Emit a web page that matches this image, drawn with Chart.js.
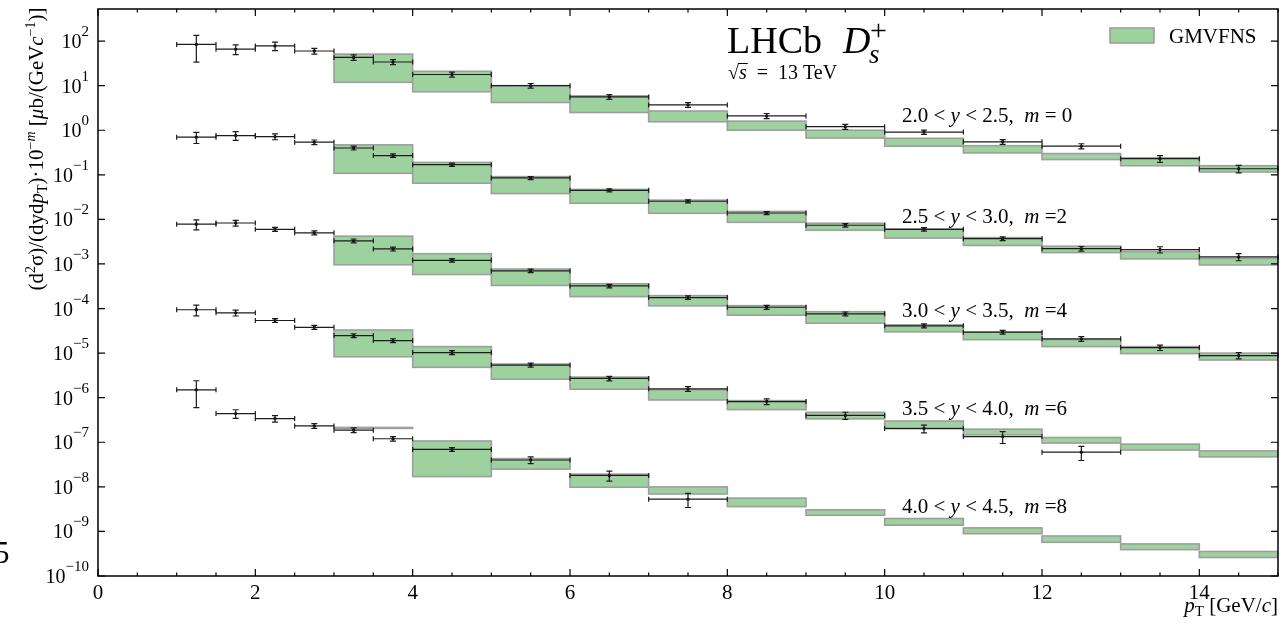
<!DOCTYPE html>
<html>
<head>
<meta charset="utf-8">
<script src="https://cdn.jsdelivr.net/npm/chart.js@4.4.1/dist/chart.umd.min.js"></script>
<style>
  html, body { margin: 0; padding: 0; background: #fff; }
  #wrap { width: 1282px; height: 626px; }
</style>
</head>
<body>
<div id="wrap"><canvas id="chart" width="1282" height="626"></canvas></div>
<script>
/* ------------------------------------------------- */
// Data (pT bins in GeV/c, cross-sections scaled by 10^-m)

var dataEdges = [1, 1.5, 2, 2.5, 3, 3.5, 4, 5, 6, 7, 8, 9, 10, 11, 12, 13, 14, 15]
var theoryEdges = [3, 4, 5, 6, 7, 8, 9, 10, 11, 12, 13, 14, 15]
var xTickLabels = [0, 2, 4, 6, 8, 10, 12, 14]
var yTickExps = [2, 1, 0, -1, -2, -3, -4, -5, -6, -7, -8, -9, -10]

var rapLow = ['2.0', '2.5', '3.0', '3.5', '4.0']
var rapHigh = ['2.5', '3.0', '3.5', '4.0', '4.5']
var mValues = [0, 2, 4, 6, 8]

// LHCb measurement
var lhcb_m0 = [84, 66, 78, 60, 43, 34, 17.8, 10, 5.6, 3.7, 2.1, 1.2, 0.91, 0.55, 0.44, 0.23, 0.137]
var lhcb_m2 = [0.70, 0.76, 0.72, 0.54, 0.40, 0.27, 0.169, 0.085, 0.045, 0.0255, 0.0139, 0.0074, 0.0060, 0.0037, 0.0022, 0.0021, 0.00144]
var lhcb_m4 = [0.0078, 0.0083, 0.0060, 0.0050, 0.0033, 0.00217, 0.00121, 0.00070, 0.000321, 0.000176, 0.000107, 7.6e-5, 4.1e-5, 2.95e-5, 2.09e-5, 1.33e-5, 8.8e-6]
var lhcb_m6 = [9.4e-5, 8.0e-5, 5.4e-5, 3.8e-5, 2.47e-5, 1.91e-5, 1.03e-5, 5.4e-6, 2.7e-6, 1.58e-6, 8.2e-7, 4.0e-7, 2.03e-7, 1.34e-7, 6.0e-8]
var lhcb_m8 = [1.5e-6, 4.4e-7, 3.4e-7, 2.33e-7, 1.87e-7, 1.2e-7, 6.9e-8, 4.0e-8, 1.8e-8, 5.3e-9]

// relative uncertainties of the measurement
var relErr_m0 = [0.6, 0.25, 0.22, 0.15, 0.14, 0.13, 0.13, 0.12, 0.12, 0.12, 0.13, 0.13, 0.11, 0.12, 0.13, 0.17, 0.19]
var relErr_m2 = [0.28, 0.22, 0.15, 0.12, 0.1, 0.09, 0.08, 0.08, 0.08, 0.08, 0.08, 0.09, 0.09, 0.1, 0.12, 0.16, 0.18]
var relErr_m4 = [0.25, 0.15, 0.1, 0.1, 0.1, 0.1, 0.09, 0.09, 0.09, 0.09, 0.1, 0.1, 0.1, 0.1, 0.12, 0.14, 0.16]
var relErr_m6 = [0.27, 0.15, 0.1, 0.1, 0.1, 0.1, 0.1, 0.1, 0.12, 0.12, 0.15, 0.18, 0.2, 0.3, 0.35]
var relErr_m8 = [0.6, 0.22, 0.17, 0.12, 0.12, 0.12, 0.1, 0.17, 0.25, 0.35]

// GMVFNS prediction, upper / lower edge of the band
var gmvfns_m0_hi = [51, 21, 10, 5.9, 2.7, 1.6, 1.0, 0.66, 0.45, 0.30, 0.24, 0.16]
var gmvfns_m0_lo = [11.9, 7.3, 4.2, 2.5, 1.55, 1.0, 0.67, 0.44, 0.31, 0.22, 0.16, 0.116]
var gmvfns_m2_hi = [0.47, 0.19, 0.091, 0.047, 0.027, 0.0151, 0.0082, 0.0061, 0.0039, 0.0025, 0.0019, 0.00134]
var gmvfns_m2_lo = [0.108, 0.065, 0.038, 0.023, 0.0137, 0.0086, 0.0057, 0.0038, 0.0026, 0.0018, 0.0013, 0.00095]
var gmvfns_m4_hi = [0.0042, 0.0017, 0.00077, 0.00036, 0.000195, 0.000116, 8.5e-5, 4.3e-5, 2.95e-5, 2.0e-5, 1.4e-5, 1.0e-5]
var gmvfns_m4_lo = [0.00096, 0.00058, 0.00033, 0.000185, 0.000115, 7.1e-5, 4.7e-5, 3.0e-5, 2.0e-5, 1.4e-5, 9.75e-6, 7.0e-6]
var gmvfns_m6_hi = [3.3e-5, 1.4e-5, 5.7e-6, 2.9e-6, 1.5e-6, 8.6e-7, 4.7e-7, 3.0e-7, 1.97e-7, 1.28e-7, 9.1e-8, 6.4e-8]
var gmvfns_m6_lo = [8.3e-6, 4.8e-6, 2.6e-6, 1.55e-6, 8.9e-7, 5.4e-7, 3.35e-7, 2.1e-7, 1.47e-7, 9.6e-8, 6.7e-8, 4.7e-8]
var gmvfns_m8_hi = [2.15e-7, 1.07e-7, 4.3e-8, 1.93e-8, 1.0e-8, 5.6e-9, 3.05e-9, 1.95e-9, 1.2e-9, 7.9e-10, 5.25e-10, 3.55e-10]
var gmvfns_m8_lo = [2.05e-7, 1.7e-8, 2.5e-8, 9.8e-9, 6.9e-9, 3.6e-9, 2.3e-9, 1.38e-9, 8.9e-10, 5.7e-10, 3.9e-10, 2.6e-10]

var series = [
    { values: lhcb_m0, err: relErr_m0, hi: gmvfns_m0_hi, lo: gmvfns_m0_lo },
    { values: lhcb_m2, err: relErr_m2, hi: gmvfns_m2_hi, lo: gmvfns_m2_lo },
    { values: lhcb_m4, err: relErr_m4, hi: gmvfns_m4_hi, lo: gmvfns_m4_lo },
    { values: lhcb_m6, err: relErr_m6, hi: gmvfns_m6_hi, lo: gmvfns_m6_lo },
    { values: lhcb_m8, err: relErr_m8, hi: gmvfns_m8_hi, lo: gmvfns_m8_lo }
]

/* ------------------------------------------------- */
// Drawing helpers

var SERIF = '"Liberation Serif", "DejaVu Serif", serif'
var BAND_FILL = 'rgb(157, 210, 158)'
var BAND_EDGE = 'rgb(158, 158, 158)'

function font(size, italic) {
    return (italic ? 'italic ' : '') + size + 'px ' + SERIF
}

// parts: [text, font, dy]
function drawRich(ctx, parts, x, y, align) {
    var w = 0
    parts.forEach(function (p) {
        ctx.font = p[1]
        w += ctx.measureText(p[0]).width
    })
    var cx = x
    if (align === 'right') cx = x - w
    if (align === 'center') cx = x - w / 2
    parts.forEach(function (p) {
        ctx.font = p[1]
        ctx.fillText(p[0], cx, y + (p[2] || 0))
        cx += ctx.measureText(p[0]).width
    })
    return w
}

function binCentres(edges, n) {
    var out = []
    for (var i = 0; i < n; i++) out.push((edges[i] + edges[i + 1]) / 2)
    return out
}

var hepPlot = {
    id: 'hepPlot',
    beforeDatasetsDraw: function (chart) {
        var ctx = chart.ctx, xs = chart.scales.x, ys = chart.scales.y, a = chart.chartArea
        ctx.save()
        ctx.beginPath()
        ctx.rect(a.left, a.top, a.right - a.left, a.bottom - a.top)
        ctx.clip()
        series.forEach(function (s) {
            for (var i = 0; i < s.hi.length; i++) {
                var x0 = xs.getPixelForValue(theoryEdges[i])
                var x1 = xs.getPixelForValue(theoryEdges[i + 1])
                var y0 = ys.getPixelForValue(s.hi[i])
                var y1 = ys.getPixelForValue(s.lo[i])
                ctx.fillStyle = BAND_FILL
                ctx.fillRect(x0, y0, x1 - x0, y1 - y0)
                ctx.strokeStyle = BAND_EDGE
                ctx.lineWidth = 1.6
                ctx.strokeRect(x0, y0, x1 - x0, y1 - y0)
            }
        })
        ctx.restore()
    },
    afterDatasetsDraw: function (chart) {
        var ctx = chart.ctx, xs = chart.scales.x, ys = chart.scales.y
        ctx.save()
        ctx.strokeStyle = '#1c1c1c'
        ctx.lineWidth = 1.2
        series.forEach(function (s) {
            s.values.forEach(function (v, i) {
                var x0 = xs.getPixelForValue(dataEdges[i])
                var x1 = xs.getPixelForValue(dataEdges[i + 1])
                var xc = (x0 + x1) / 2
                var y = ys.getPixelForValue(v)
                var yUp = ys.getPixelForValue(v * (1 + s.err[i]))
                var yDn = ys.getPixelForValue(v * Math.max(1 - s.err[i], 0.05))
                ctx.beginPath()
                ctx.moveTo(x0, y); ctx.lineTo(x1, y)
                ctx.moveTo(x0, y - 2.5); ctx.lineTo(x0, y + 2.5)
                ctx.moveTo(x1, y - 2.5); ctx.lineTo(x1, y + 2.5)
                ctx.moveTo(xc, yUp); ctx.lineTo(xc, yDn)
                ctx.moveTo(xc - 3, yUp); ctx.lineTo(xc + 3, yUp)
                ctx.moveTo(xc - 3, yDn); ctx.lineTo(xc + 3, yDn)
                ctx.stroke()
            })
        })
        ctx.restore()
    },
    afterDraw: function (chart) {
        var ctx = chart.ctx, xs = chart.scales.x, ys = chart.scales.y, a = chart.chartArea
        ctx.save()
        ctx.fillStyle = '#000'
        ctx.strokeStyle = '#000'

        // frame
        ctx.lineWidth = 1.5
        ctx.strokeRect(a.left, a.top, a.right - a.left, a.bottom - a.top)

        // x ticks (inward, top and bottom)
        ctx.lineWidth = 1.2
        for (var t = 0; t <= 15; t += 0.5) {
            var px = xs.getPixelForValue(t)
            var len = (t % 2 === 0) ? 7 : 3.5
            ctx.beginPath()
            ctx.moveTo(px, a.bottom); ctx.lineTo(px, a.bottom - len)
            ctx.moveTo(px, a.top); ctx.lineTo(px, a.top + len)
            ctx.stroke()
        }
        // y ticks (inward, left and right)
        yTickExps.forEach(function (e) {
            var py = ys.getPixelForValue(Math.pow(10, e))
            ctx.beginPath()
            ctx.moveTo(a.left, py); ctx.lineTo(a.left + 7, py)
            ctx.moveTo(a.right, py); ctx.lineTo(a.right - 7, py)
            ctx.stroke()
        })

        // tick labels
        ctx.textBaseline = 'alphabetic'
        ctx.textAlign = 'left'
        xTickLabels.forEach(function (v) {
            drawRich(ctx, [[String(v), font(21)]], xs.getPixelForValue(v), 599, 'center')
        })
        yTickExps.forEach(function (e) {
            var py = ys.getPixelForValue(Math.pow(10, e))
            var exp = e < 0 ? '\u2212' + (-e) : String(e)
            drawRich(ctx, [['10', font(20)], [exp, font(15), -12]], 89, py + 7, 'right')
        })

        // axis titles
        drawRich(ctx, [
            ['p', font(21, true)], ['T', font(15), 4],
            [' [GeV/', font(21)], ['c', font(21, true)], [']', font(21)]
        ], 1278, 612, 'right')

        ctx.save()
        ctx.translate(36, 149)
        ctx.rotate(-Math.PI / 2)
        drawRich(ctx, [
            ['(d', font(21)], ['2', font(14), -8], ['\u03c3)/(dyd', font(21)],
            ['p', font(21, true)], ['T', font(14), 4], [')\u00b710', font(21)],
            ['\u2212', font(14), -8], ['m', font(14, true), -8],
            [' [', font(21)], ['\u03bc', font(21, true)], ['b/(GeV', font(21)],
            ['c', font(21, true)], ['\u22121', font(14), -8], [')]', font(21)]
        ], 0, 7, 'center')
        ctx.restore()

        // experiment label
        drawRich(ctx, [['LHCb', font(38)]], 727, 53, 'left')
        drawRich(ctx, [['D', font(38, true)]], 843, 53, 'left')
        drawRich(ctx, [['+', font(30)]], 870, 40, 'left')
        drawRich(ctx, [['s', font(27, true)]], 869, 63, 'left')
        var rw = drawRich(ctx, [['\u221a', font(20)]], 728, 79, 'left')
        var sw = drawRich(ctx, [['s', font(20, true)]], 728 + rw, 79, 'left')
        ctx.lineWidth = 1
        ctx.beginPath()
        ctx.moveTo(728 + rw - 1, 63.5); ctx.lineTo(728 + rw + sw + 1, 63.5)
        ctx.stroke()
        drawRich(ctx, [['  =  13 TeV', font(20)]], 728 + rw + sw, 79, 'left')

        // rapidity labels, anchored in data coordinates
        var labelLogY = [0.34, -1.92, -4.03, -6.23, -8.43]
        mValues.forEach(function (m, k) {
            var py = ys.getPixelForValue(Math.pow(10, labelLogY[k])) + 7
            drawRich(ctx, [
                [rapLow[k] + ' < ', font(21)], ['y', font(21, true)],
                [' < ' + rapHigh[k] + ',  ', font(21)], ['m', font(21, true)],
                [m === 0 ? ' = 0' : ' =' + m, font(21)]
            ], xs.getPixelForValue(10.22), py, 'left')
        })

        // legend
        ctx.fillStyle = BAND_FILL
        ctx.fillRect(1110, 28, 44, 15)
        ctx.strokeStyle = BAND_EDGE
        ctx.lineWidth = 1.6
        ctx.strokeRect(1110, 28, 44, 15)
        ctx.fillStyle = '#000'
        drawRich(ctx, [['GMVFNS', font(21)]], 1169, 43, 'left')

        // clipped label of the neighbouring panel
        drawRich(ctx, [['5', font(31)]], -6, 563, 'left')
        ctx.restore()
    }
}

/* ------------------------------------------------- */
// Chart

var pointSets = series.map(function (s) {
    var xc = binCentres(dataEdges, s.values.length)
    return {
        data: s.values.map(function (v, i) { return { x: xc[i], y: v } }),
        pointRadius: 1.7,
        pointBackgroundColor: '#000',
        pointBorderWidth: 0,
        showLine: false
    }
})

var ctx = document.getElementById('chart').getContext('2d')
var dsChart = new Chart(ctx, {
    type: 'scatter',
    data: { datasets: pointSets },
    options: {
        responsive: false,
        animation: false,
        devicePixelRatio: 1,
        layout: { padding: { top: 9, right: 3, left: 0, bottom: 0 } },
        plugins: {
            legend: { display: false },
            tooltip: { enabled: false }
        },
        scales: {
            x: {
                type: 'linear',
                min: 0,
                max: 15,
                bounds: 'data',
                grid: { display: false },
                border: { display: false },
                ticks: { display: false },
                afterFit: function (scale) { scale.height = 50 }
            },
            y: {
                type: 'logarithmic',
                min: 1e-10,
                max: Math.pow(10, 2.72),
                bounds: 'data',
                grid: { display: false },
                border: { display: false },
                ticks: { display: false },
                afterFit: function (scale) { scale.width = 98 }
            }
        }
    },
    plugins: [hepPlot]
})
</script>
</body>
</html>
